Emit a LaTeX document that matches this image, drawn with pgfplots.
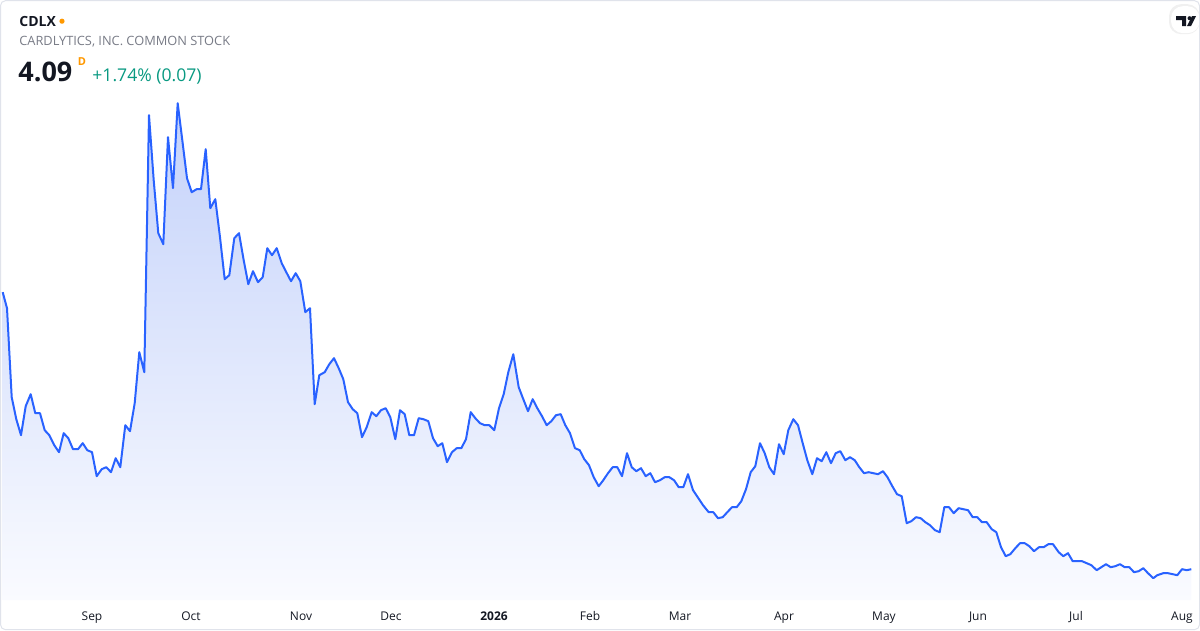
\documentclass[border=0pt]{standalone}
\usepackage{pgfplots}
\pgfplotsset{compat=1.18}
\usepackage{pgfplotstable}
\usepackage{fontspec}
\setmainfont{Open Sans}
\definecolor{tvblue}{RGB}{41,98,255}
\definecolor{filltop}{RGB}{196,210,250}
\definecolor{fillbot}{RGB}{250,251,255}
\definecolor{tvtext}{RGB}{19,23,34}
\definecolor{tvgray}{RGB}{120,123,134}
\definecolor{tvgreen}{RGB}{8,153,129}
\definecolor{tvorange}{RGB}{255,152,0}
\definecolor{tvborder}{RGB}{224,227,235}

% px = horizontal position, py = vertical position of the close (screen units, down = lower price)
\pgfplotstableread{
px py
2.7 292
7 308
11.7 397
16.3 419
21 435
25.7 406
30.7 394
35.3 413
40 413
44.7 430
49.3 435
54.3 445
59 452
63.7 433
68.3 438
73 449
78 449
82.7 443
87.3 450
92 452
96.7 476
101.7 469
106.3 467
111 472
115.7 458
120.3 467
125.3 425
130 431
134.7 403
139.3 352
144.3 372
149 115
153.7 180
158.3 233
163.3 244
168 137
173 188
177.7 103
182.3 140
187 178
191.7 192
196.7 189
201 189
205.7 149
210.3 208
215.3 199
220 237
224.7 279
229.3 275
234.3 238
239 233
243.7 260
248.3 284
253 271
258 282
262.7 277
267.3 248
272 255
276.7 248
281.7 263
286.3 272
291 281
295.7 273
300.3 281
305.3 312
310 308
314.7 404
319.3 375
324.7 372
329.3 364
334 358
338.7 368
343.3 379
348 402
352.7 409
357.3 413
362 437
366.7 427
371.7 412
376.3 416
381 410
385.7 408
390.3 417
395.3 439
400 410
404.7 414
409.3 435
414 435
418.7 418
423.3 419
428.3 421
433 438
437.7 446
442.3 443
447 462
452 452
456.7 448
461.3 448
466 439
470.7 412
475.3 418
480 423
484.7 425
489.3 425
494.3 430
499 408
503.7 394
508.3 372
513.3 354
518.7 387
523.3 399
528 411
532.7 399
537.3 408
542 416
546.7 425
551.3 421
556 415
560.7 414
565.3 425
570 433
575 448
579.7 450
584.3 459
589 465
593.7 477
598.7 486
603.3 480
608 473
612.7 467
617.3 467
622 476
627 453
631.7 467
636.3 471
641 468
645.7 476
650.3 473
655 482
660 480
664.7 477
669.3 477
674 480
678.7 487
683.3 487
688 474
693 490
697.7 497
703 505
708.7 512
713.3 512
718 518
722.7 517
727.3 512
732 507
736.7 507
741.3 501
746 489
750.7 472
755.3 466
760 443
764.7 453
769.3 467
774 474
779 444
783.7 454
788.3 430
793.3 419
798 425
802.7 443
807.3 460
812.3 474
817 458
821.7 461
826.3 452
831 463
835.7 453
840.3 451
845.3 460
850 457
854.7 460
859.3 467
864 473
868.7 472
873.3 473
878 474
883 471
887.5 477
892.3 486
897 494
901.7 496
906.7 523
911.3 521
916 517
920.7 518
925.3 522
930 525
935 530
939.7 532
944.3 507
949 507
953.7 513
958.7 508
963.3 509
968 510
972.7 517
977.3 517
982 522
986.7 522
991.7 529
996.3 532
1001 547
1005.7 556
1010.3 554
1015.3 548
1020 543
1024.7 543
1029.3 546
1034 551
1039 547
1043.7 547
1048.3 544
1053 544
1058.7 552
1063.3 556
1068 553
1072.7 561
1077.3 561
1082 561
1086.7 563
1091.3 565
1096.7 570
1101.3 567
1106 564
1110.7 567
1115.3 566
1120 564
1124.7 567
1129.3 567
1134 572
1138.7 571
1143.3 568
1148 573
1153.3 578
1157.3 575
1163.3 573
1168 573
1172.7 574
1177.3 575
1182 569
1186.7 570
1191.3 569
}\pricetable

\begin{document}
\begin{tikzpicture}
\begin{axis}[
  width=600pt, height=300pt, scale only axis,
  xmin=0, xmax=1200, ymin=0, ymax=600,
  axis line style={draw=none},
  ytick=\empty,
  xtick={92,191,301,391,494,590,680,784,884,978,1076,1182},
  xticklabels={Sep,Oct,Nov,Dec,\textbf{2026},Feb,Mar,Apr,May,Jun,Jul,Aug},
  major tick length=0pt,
  xticklabel style={anchor=base, yshift=-10.2pt, font=\fontsize{6}{7}\selectfont, text=tvtext},
  clip=false,
]
% area and line
\addplot[draw=none, top color=filltop, bottom color=fillbot] table[x=px, y expr={600-\thisrow{py}}] {\pricetable} \closedcycle;
\addplot[tvblue, line width=1pt, line join=round, mark=none] table[x=px, y expr={600-\thisrow{py}}] {\pricetable};
% header
\node[anchor=base west, inner sep=0pt, text=tvtext, font=\fontsize{7}{8}\selectfont\bfseries] at (axis cs:19,574) {CDLX};
\fill[tvorange] (axis cs:62,579) circle (1.3pt);
\node[anchor=base west, inner sep=0pt, text=tvgray, font=\fontsize{6.4}{7}\selectfont] at (axis cs:19,554.5) {CARDLYTICS, INC. COMMON STOCK};
\node[anchor=base west, inner sep=0pt, text=tvtext, font=\fontsize{13.5}{15}\selectfont\bfseries] at (axis cs:18,519) {4.09};
\node[anchor=base west, inner sep=0pt, text=tvorange, font=\fontsize{5.5}{6}\selectfont\bfseries] at (axis cs:77.5,535) {D};
\node[anchor=base west, inner sep=0pt, text=tvgreen, font=\fontsize{8.8}{10}\selectfont] at (axis cs:92,519) {+1.74\% (0.07)};
% logo pill, clipped to the frame
\begin{scope}
\clip[rounded corners=2.5pt] (axis cs:0.5,-29.5) rectangle (axis cs:1199.5,599.5);
\fill[black!6, rounded corners=6pt] (axis cs:1169,566) rectangle (axis cs:1199.5,596);
\fill[white, rounded corners=6pt] (axis cs:1171,567) rectangle (axis cs:1199.5,594);
\end{scope}
\fill[tvtext] (axis cs:1176,584) -- (axis cs:1186,584) -- (axis cs:1186,574) -- (axis cs:1182,574) -- (axis cs:1182,580) -- (axis cs:1176,580) -- cycle;
\fill[tvtext] (axis cs:1189.5,582) circle (1pt);
\fill[tvtext] (axis cs:1192,584) -- (axis cs:1196,584) -- (axis cs:1191,574) -- (axis cs:1187,574) -- cycle;
% frame
\draw[tvborder, line width=0.5pt, rounded corners=2.5pt] (axis cs:0.5,-29.5) rectangle (axis cs:1199.5,599.5);
\end{axis}
\end{tikzpicture}
\end{document}
